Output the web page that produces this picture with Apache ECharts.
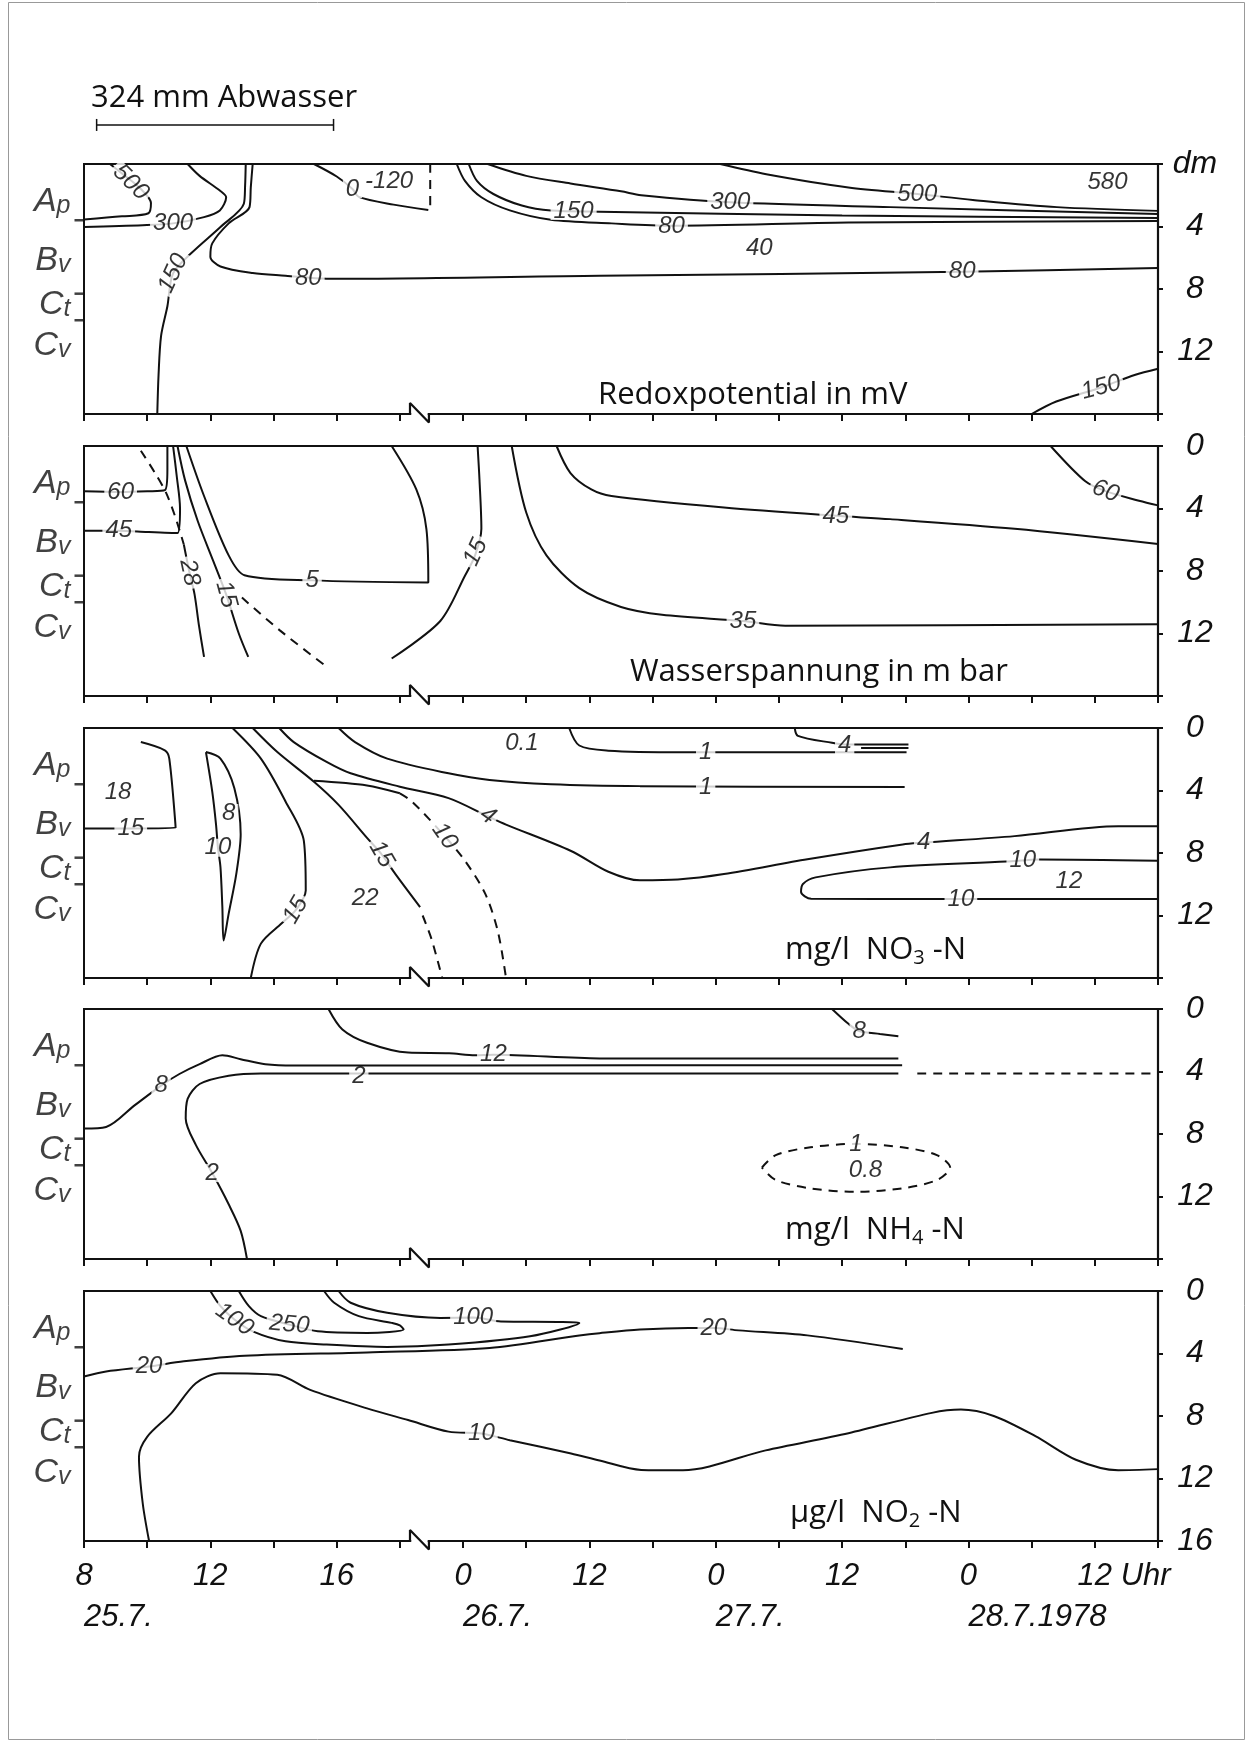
<!DOCTYPE html>
<html>
<head>
<meta charset="utf-8">
<script src="https://cdn.jsdelivr.net/npm/echarts@6/dist/echarts.min.js"></script>
<style>
  html, body { margin: 0; padding: 0; background: #fff; }
  #chart { width: 1251px; height: 1753px; }
</style>
</head>
<body>
<div id="chart"></div>
<script>
// x is counted in axis ticks: one tick = 2 h before the break, 6 h after it
// (0 = 25.7. 8 Uhr ... 17 = 28.7. 18 Uhr). y is depth in dm.
const hourLabels = {0: '8', 2: '12', 4: '16', 6: '0', 8: '12', 10: '0', 12: '12', 14: '0', 16: '12 Uhr'};
const dateLabels = {0: '25.7.', 6: '26.7.', 10: '27.7.', 14: '28.7.1978'};
const horizons = ['A', 'B', 'C', 'C'];
const horizonSub = ['p', 'v', 't', 'v'];
const horizonDepth = [2.4, 6.2, 9.0, 11.6];
const horizonBounds = [3.6, 8.3, 10.0];
const irrigation = [0.2, 3.95]; // 324 mm Abwasser
const breakSpan = [5.16, 5.46];

// Redoxpotential in mV
const rx500a = [[0.41,0],[0.6,0.6],[0.9,1.6],[1.06,2.5],[1.02,3.15],[0.6,3.35],[0,3.55]];
const rx300a = [[0,4.03],[0.93,3.92],[1.41,3.8],[1.9,3.4],[2.15,2.97],[2.25,2.13],[2.15,1.7],[1.83,0.76],[1.64,0]];
const rx150a = [[2.56,0],[2.55,1.4],[2.53,2.55],[2.16,4.03],[1.7,5.7],[1.41,7.0],[1.32,9.1],[1.22,11],[1.18,13.5],[1.16,16]];
const rx80a = [[2.67,0],[2.64,1.5],[2.62,2.76],[2.29,3.8],[2.03,5.08],[2.0,5.93],[2.16,6.56],[2.67,6.98],[3.19,7.15],[3.84,7.35],[8.16,7.15],[13.9,6.9],[17,6.65]];
const rx0 = [[3.64,0],[4.0,0.8],[4.25,1.6],[4.35,2.1],[4.9,2.6],[5.45,2.95]];
const rx0gap = [[5.48,0],[5.48,2.95]];
const rx80b = [[5.9,0],[6.03,1.08],[6.29,2.13],[6.74,2.97],[7.39,3.57],[8.35,3.8],[9.3,3.95],[12.1,3.75],[17,3.65]];
const rx150b = [[6.09,0],[6.22,1.08],[6.48,1.92],[6.93,2.66],[7.39,2.98],[8.16,3.05],[12,3.3],[17,3.45]];
const rx300b = [[6.39,0],[7.0,0.76],[7.7,1.25],[8.5,1.75],[8.82,2.0],[10.23,2.45],[12.76,2.76],[17,3.2]];
const rx500b = [[10.07,0],[10.8,0.65],[12.1,1.5],[13.19,1.92],[14.07,2.3],[15.4,2.76],[17,3.0]];
const rx150c = [[15.0,16],[15.39,15.2],[16.1,14.3],[16.63,13.5],[17,13.1]];
const rxLabels = [[0.74,1.18,'500'],[1.41,3.82,'300'],[1.41,7.0,'150'],[3.55,7.3,'80'],[13.9,6.9,'80'],
  [4.25,1.6,'0'],[4.83,1.1,'-120'],[7.75,3.0,'150'],[9.3,3.98,'80'],[10.23,2.45,'300'],
  [13.19,1.92,'500'],[16.2,1.15,'580'],[10.69,5.4,'40'],[16.1,14.3,'150']];
const rxAngles = [-45,0,65,0,0,0,0,0,0,0,0,0,0,15];

// Wasserspannung in m bar
const ws60a = [[0,2.9],[0.58,2.95],[1.0,2.9],[1.28,2.83],[1.32,1.5],[1.32,0]];
const ws45a = [[0,5.42],[0.55,5.42],[1.0,5.5],[1.48,5.57],[1.52,4.0],[1.47,2.0],[1.41,0]];
const ws28top = [[0.9,0.3],[1.12,1.7],[1.3,3.0],[1.45,4.6],[1.58,6.3]];
const ws28 = [[1.58,6.3],[1.67,8.1],[1.75,9.5],[1.82,11.5],[1.9,13.5]];
const ws15a = [[1.48,0],[1.6,2.2],[1.8,4.8],[2.05,7.4],[2.25,9.5],[2.45,12.0],[2.6,13.5]];
const ws5 = [[1.62,0],[1.9,3.2],[2.29,7.0],[2.54,8.27],[3.61,8.6],[5.45,8.73],[5.42,5.32],[5.26,2.78],[4.87,0]];
const wsDash = [[2.5,9.7],[3.1,11.8],[3.8,14.0]];
const ws15b = [[4.87,13.6],[5.64,11.2],[6.03,8.3],[6.19,7.0],[6.29,5.3],[6.26,2.15],[6.23,0]];
const ws35 = [[6.77,0],[7.0,4.26],[7.32,7.0],[7.84,9.1],[8.5,10.3],[9.15,10.8],[10.43,11.2],[11.1,11.5],[17,11.4]];
const ws45b = [[7.48,0],[7.7,1.73],[8.03,2.78],[8.35,3.2],[10.13,3.94],[11.9,4.47],[12.76,4.68],[14.73,5.3],[17,6.27]];
const ws60b = [[15.3,0],[15.85,2.26],[16.17,2.89],[16.7,3.5],[17,3.8]];
const wsLabels = [[0.58,2.95,'60'],[0.55,5.42,'45'],[1.67,8.1,'28'],[2.25,9.5,'15'],[3.61,8.62,'5'],
  [6.2,6.8,'15'],[10.43,11.2,'35'],[11.9,4.47,'45'],[16.17,2.89,'60']];
const wsAngles = [0,0,-78,-75,0,65,0,0,-20];

// mg/l NO3-N
const no15a = [[0.9,0.9],[1.28,1.43],[1.35,1.96],[1.45,6.39],[0.74,6.43],[0,6.43]];
const no10lens = [[1.93,1.54],[2.16,1.96],[2.38,3.86],[2.48,6.8],[2.41,9.35],[2.29,11.88],[2.21,13.6],[2.19,11.46],[2.16,8.9],[2.12,7.66],[2.09,6.18],[2.03,4.07],[1.93,1.54]];
const no15b = [[2.35,0],[2.8,1.96],[3.19,4.7],[3.48,7.23],[3.51,10.4],[3.35,11.66],[3.13,12.5],[2.8,13.8],[2.64,16]];
const no15c = [[2.67,0],[3.06,1.54],[3.64,3.44],[4.03,4.92],[4.48,7.03],[4.71,8.08],[4.93,9.35],[5.32,11.46]];
const no15cDash = [[5.36,12.0],[5.5,13.5],[5.67,16]];
const no10 = [[3.64,3.38],[4.48,3.68],[5.0,4.18]];
const no10Dash = [[5.0,4.18],[5.19,4.7],[5.71,6.92],[6.03,8.5],[6.35,10.6],[6.55,13],[6.68,16]];
const no4 = [[3.09,0],[3.32,0.9],[3.84,2.17],[4.22,2.9],[5.0,3.76],[5.77,4.49],[6.39,5.65],[6.68,6.18],[7.71,7.87],[8.3,9.2],[8.8,9.75],[9.4,9.7],[10.13,9.35],[11.45,8.4],[12.96,7.45],[13.29,7.34],[14.73,6.92],[16.37,6.29],[17,6.29]];
const no1a = [[7.68,0],[7.84,1.12],[8.3,1.45],[9.48,1.55],[13.02,1.55]];
const no1b = [[4.03,0],[4.29,0.9],[4.8,1.96],[5.77,2.9],[6.42,3.33],[7.39,3.6],[8.8,3.72],[12.99,3.78]];
const no4top = [[11.25,0],[11.3,0.5],[11.84,0.95],[12.04,1.05],[13.05,1.05]];
const no4edge = [[12.3,1.28],[13.05,1.28]];
const no10b = [[17,8.5],[15.13,8.42],[14.6,8.55],[12.76,8.92],[11.58,9.56],[11.38,9.98],[11.35,10.5],[11.51,10.93],[13.54,10.95],[17,10.95]];
const noLabels = [[0.74,6.43,'15'],[0.54,4.1,'18'],[2.29,5.44,'8'],[2.12,7.66,'10'],[3.35,11.66,'15'],
  [4.45,10.93,'22'],[4.71,8.08,'15'],[5.71,6.92,'10'],[6.39,5.6,'4'],[6.93,1.0,'0.1'],[9.84,1.55,'1'],
  [9.84,3.78,'1'],[12.04,1.1,'4'],[13.29,7.34,'4'],[14.86,8.48,'10'],[13.88,10.98,'10'],[15.59,9.8,'12']];
const noAngles = [0,0,0,0,60,0,-60,-55,-35,0,0,0,0,0,0,0,0];

// mg/l NH4-N
const nh12 = [[3.87,0],[4.09,1.31],[4.48,2.16],[5.13,2.79],[5.78,2.83],[6.19,2.96],[6.48,2.93],[8.16,3.16],[12.89,3.16]];
const nh8 = [[0,7.65],[0.35,7.55],[0.8,6.17],[1.22,4.9],[1.51,4.16],[1.83,3.53],[2.19,2.96],[2.48,3.21],[2.87,3.53],[3.32,3.62],[8.8,3.6],[12.95,3.6]];
const nh2 = [[2.58,16],[2.48,14.2],[2.29,12.5],[2.03,10.5],[1.77,8.7],[1.61,7.0],[1.64,5.75],[1.83,4.8],[2.29,4.27],[2.8,4.12],[4.03,4.12],[12.89,4.12]];
const nh2Dash = [[13.19,4.12],[17,4.12]];
const nh8top = [[11.84,0],[12.1,0.95],[12.27,1.41],[12.6,1.6],[12.89,1.75]];
const nh1 = [[10.73,10.15],[10.95,9.35],[11.5,8.85],[12.22,8.63],[12.95,8.85],[13.5,9.35],[13.71,10.15],[13.5,10.95],[12.95,11.48],[12.22,11.7],[11.5,11.48],[10.95,10.95],[10.73,10.15]];
const nhLabels = [[6.48,2.93,'12'],[1.22,4.9,'8'],[2.03,10.5,'2'],[4.35,4.3,'2'],[12.27,1.41,'8'],[12.22,8.63,'1'],[12.37,10.3,'0.8']];
const nhAngles = [0,0,0,0,0,0,0];

// µg/l NO2-N
const n2100 = [[2.0,0],[2.16,0.97],[2.38,1.82],[2.67,2.58],[3.19,3.22],[3.84,3.43],[4.8,3.58],[5.77,3.43],[7.06,2.9],[7.84,2.04],[7.5,1.98],[6.6,1.95],[6.16,1.7],[5.64,1.72],[4.8,1.39],[4.22,0.75],[4.03,0]];
const n2250 = [[2.45,0],[2.61,0.97],[2.8,1.61],[3.25,2.15],[3.7,2.58],[4.48,2.68],[5.06,2.47],[5.0,2.2],[4.87,2.04],[4.35,1.61],[3.96,0.75],[3.8,0]];
const n220 = [[0,5.47],[0.35,5.15],[1.03,4.83],[1.58,4.5],[2.54,4.14],[4.48,3.93],[6.42,3.65],[7.84,2.85],[8.16,2.7],[8.8,2.47],[9.57,2.37],[9.97,2.37],[10.36,2.52],[11.45,2.84],[12.96,3.71]];
const n210 = [[1.03,16],[0.93,13.6],[0.87,10.6],[1.0,9.33],[1.38,7.83],[1.77,5.9],[2.16,5.26],[3.06,5.36],[3.58,6.33],[4.48,7.51],[5.13,8.26],[5.77,9.0],[6.29,9.12],[6.74,9.55],[7.71,10.4],[8.16,10.85],[8.82,11.45],[9.48,11.47],[10.79,10.2],[12.1,9.1],[13.42,7.8],[13.88,7.59],[14.4,8.0],[15.06,9.29],[15.7,10.8],[16.37,11.47],[17,11.4]];
const n2Labels = [[2.38,1.82,'100'],[3.25,2.15,'250'],[6.16,1.7,'100'],[1.03,4.83,'20'],[9.97,2.37,'20'],[6.29,9.12,'10']];
const n2Angles = [-35,-5,0,0,0,0];

const NUM_FONT = "'Liberation Sans', 'DejaVu Sans', sans-serif";
const TXT_FONT = "'Open Sans', 'Noto Sans', sans-serif";
const INK = '#111';
const tops = [164, 446, 728, 1009, 1291];
const PANEL_H = 250;

const panels = [
  {solid: [rx500a, rx300a, rx150a, rx80a, rx0, rx80b, rx150b, rx300b, rx500b, rx150c], dashed: [rx0gap],
   labels: rxLabels, angles: rxAngles, title: '{t|Redoxpotential in mV}', tx: 593, ty: 390},
  {solid: [ws60a, ws45a, ws28, ws15a, ws5, ws15b, ws35, ws45b, ws60b], dashed: [ws28top, wsDash],
   labels: wsLabels, angles: wsAngles, title: '{t|Wasserspannung in m bar}', tx: 625, ty: 667},
  {solid: [no15a, no10lens, no15b, no15c, no10, no4, no1a, no1b, no4top, no4edge, no10b], dashed: [no15cDash, no10Dash],
   labels: noLabels, angles: noAngles, title: '{t|mg/l  NO}{s|3}{t| -N}', tx: 780, ty: 945},
  {solid: [nh12, nh8, nh2, nh8top], dashed: [nh2Dash, nh1],
   labels: nhLabels, angles: nhAngles, title: '{t|mg/l  NH}{s|4}{t| -N}', tx: 780, ty: 1225},
  {solid: [n2100, n2250, n220, n210], dashed: [],
   labels: n2Labels, angles: n2Angles, title: '{t|µg/l  NO}{s|2}{t| -N}', tx: 785, ty: 1508}
];

const titleRich = {
  t: {fontFamily: TXT_FONT, fontSize: 31, color: INK, lineHeight: 36},
  s: {fontFamily: TXT_FONT, fontSize: 20, color: INK, lineHeight: 14, verticalAlign: 'bottom'}
};

const series = [];
panels.forEach((p, i) => {
  const line = (data, dashed) => ({
    type: 'line', xAxisIndex: i, yAxisIndex: i, data: data, symbol: 'none', smooth: 0.3,
    silent: true, z: 3, lineStyle: {color: INK, width: 2, type: dashed ? [9, 7] : 'solid'}
  });
  p.solid.forEach(d => series.push(line(d, false)));
  p.dashed.forEach(d => series.push(line(d, true)));
  // contour values, written into the lines
  series.push({
    type: 'scatter', xAxisIndex: i, yAxisIndex: i, symbolSize: 1, silent: true, z: 6,
    itemStyle: {color: 'rgba(0,0,0,0)'},
    data: p.labels.map((l, k) => ({value: [l[0], l[1]], label: {formatter: l[2], rotate: p.angles[k] || 0}})),
    label: {show: true, position: 'inside', color: '#000', fontFamily: NUM_FONT, fontStyle: 'italic',
      fontSize: 24, lineHeight: 18, backgroundColor: '#fff', padding: [0, 3]}
  });
  // soil horizons on the left edge
  series.push({
    type: 'scatter', xAxisIndex: i, yAxisIndex: i, symbolSize: 1, silent: true, clip: false,
    itemStyle: {color: 'rgba(0,0,0,0)'},
    data: horizonDepth.map((d, k) => ({value: [0, d], label: {formatter: '{m|' + horizons[k] + '}{s|' + horizonSub[k] + '}'}})),
    label: {show: true, position: 'left', distance: 13, rich: {
      m: {fontFamily: NUM_FONT, fontStyle: 'italic', fontSize: 34, color: INK, lineHeight: 34},
      s: {fontFamily: NUM_FONT, fontStyle: 'italic', fontSize: 25, color: INK, lineHeight: 16, verticalAlign: 'bottom'}
    }}
  });
  series.push({
    type: 'scatter', xAxisIndex: i, yAxisIndex: i, silent: true, clip: false, symbol: 'rect',
    symbolSize: [9, 2.5], symbolOffset: [-5, 0], itemStyle: {color: INK},
    data: horizonBounds.map(d => [0, d])
  });
  // axis break
  series.push({
    type: 'line', xAxisIndex: i, yAxisIndex: i, symbol: 'none', silent: true, clip: false, z: 4,
    lineStyle: {color: '#fff', width: 5},
    data: [[breakSpan[0] + 0.02, 16], [breakSpan[1] - 0.02, 16]]
  });
  series.push({
    type: 'line', xAxisIndex: i, yAxisIndex: i, symbol: 'none', silent: true, clip: false, z: 5,
    lineStyle: {color: INK, width: 2.2},
    data: [[breakSpan[0], 16], [breakSpan[0], 15.3], [breakSpan[1], 16.55], [breakSpan[1], 16]]
  });
});
// irrigation bar above the first panel
series.push({
  type: 'line', xAxisIndex: 0, yAxisIndex: 0, silent: true, clip: false, symbol: 'rect',
  symbolSize: [1.5, 12], showSymbol: true, itemStyle: {color: INK},
  lineStyle: {color: INK, width: 1.5},
  data: [[irrigation[0], -2.5], [irrigation[1], -2.5]]
});

const xAxes = tops.map((t, i) => ({
  gridIndex: i, type: 'value', min: 0, max: 17, interval: 1,
  axisLine: {show: true, onZero: false, lineStyle: {color: INK, width: 2.2}},
  axisTick: {show: true, length: 7, lineStyle: {color: INK, width: 2}},
  splitLine: {show: false},
  axisLabel: {show: i === 4, margin: 20, color: INK, fontFamily: NUM_FONT, fontStyle: 'italic', fontSize: 31,
    formatter: v => v === 16 ? '{g| Uhr}12 Uhr' : (hourLabels[v] || ''),
    rich: {g: {color: 'rgba(0,0,0,0)', fontFamily: NUM_FONT, fontStyle: 'italic', fontSize: 31}}}
}));
xAxes.push({
  gridIndex: 4, type: 'value', min: 0, max: 17, interval: 1, position: 'bottom', offset: 41,
  axisLine: {show: false}, axisTick: {show: false}, splitLine: {show: false},
  axisLabel: {show: true, align: 'left', margin: 20, color: INK, fontFamily: NUM_FONT, fontStyle: 'italic',
    fontSize: 31, formatter: v => dateLabels[v] || ''}
});

const yAxes = tops.map((t, i) => ({
  gridIndex: i, type: 'value', inverse: true, min: 0, max: 16, interval: 4, position: 'right',
  axisLine: {show: true, onZero: false, lineStyle: {color: INK, width: 2.2}},
  axisTick: {show: true, length: 5, lineStyle: {color: INK, width: 2}},
  splitLine: {show: false},
  axisLabel: {color: INK, fontFamily: NUM_FONT, fontStyle: 'italic', fontSize: 32, align: 'center', margin: 37,
    formatter: v => (i === 0 && v === 0) ? 'dm' : ((v === 16 && i < 4) ? '' : String(v))}
}));

const titles = [{text: '324 mm Abwasser', left: 86, top: 75,
  textStyle: {fontFamily: TXT_FONT, fontSize: 31, fontWeight: 'normal', color: INK, lineHeight: 36}}];
panels.forEach(p => titles.push({text: p.title, left: p.tx, top: p.ty - 18,
  textStyle: {fontWeight: 'normal', rich: titleRich}}));

const chart = echarts.init(document.getElementById('chart'));
chart.setOption({
  animation: false,
  backgroundColor: '#fff',
  title: titles,
  grid: tops.map(t => ({left: 84, right: 93, top: t, height: PANEL_H, show: true,
    borderColor: INK, borderWidth: 2, outerBoundsMode: 'none'})),
  xAxis: xAxes,
  yAxis: yAxes,
  series: series,
  graphic: [{type: 'rect', silent: true, shape: {x: 8.5, y: 2.5, width: 1236, height: 1737},
    style: {fill: null, stroke: '#999', lineWidth: 1}}]
});
</script>
</body>
</html>
